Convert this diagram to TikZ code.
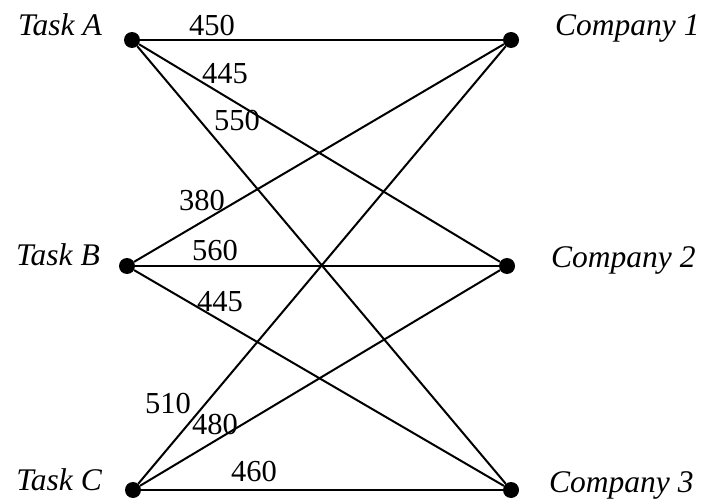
\documentclass[tikz,border=0pt]{standalone}
\usepackage{fontspec}
\setmainfont{Liberation Serif}
\usepackage{tikz}
\usetikzlibrary{positioning}

\begin{document}
\begin{tikzpicture}[
    x=1pt, y=1pt,
    dot/.style={circle, fill=black, inner sep=0pt, minimum size=16pt},
    side_lbl/.style={inner sep=0pt, font=\fontsize{31.5}{36}\selectfont\itshape},
    cost_lbl/.style={inner sep=0pt, font=\fontsize{30.5}{36}\selectfont},
    edge/.style={line width=2pt}
]
\useasboundingbox (0,0) rectangle (707,499);

% tasks and companies
\node (ta) [dot] at (132,459) {};
\node (tb) [dot] at (127,233) {};
\node (tc) [dot] at (133,9) {};
\node (ca) [dot] at (511,459) {};
\node (cb) [dot] at (507,233) {};
\node (cc) [dot] at (511,9) {};

\node (lta) [side_lbl, anchor=base east] at (102,463) {Task A};
\node (ltb) [side_lbl, anchor=base east] at (100,234) {Task B};
\node (ltc) [side_lbl, anchor=base east] at (102,9) {Task C};
\node (lca) [side_lbl, anchor=base west] at (555,463) {Company 1};
\node (lcb) [side_lbl, anchor=base west] at (551,232) {Company 2};
\node (lcc) [side_lbl, anchor=base west] at (549,7) {Company 3};

% assignments
\draw [edge] (ta) -- (ca);
\draw [edge] (ta) -- (cb);
\draw [edge] (ta) -- (cc);
\draw [edge] (tb) -- (ca);
\draw [edge] (tb) -- (cb);
\draw [edge] (tb) -- (cc);
\draw [edge] (tc) -- (ca);
\draw [edge] (tc) -- (cb);
\draw [edge] (tc) -- (cc);

% costs
\node (w11) [cost_lbl] at (212,473) {450};
\node (w12) [cost_lbl] at (225,425) {445};
\node (w13) [cost_lbl] at (237,378) {550};
\node (w21) [cost_lbl] at (202,298) {380};
\node (w22) [cost_lbl] at (215,248) {560};
\node (w23) [cost_lbl] at (220,197) {445};
\node (w31) [cost_lbl] at (168,95) {510};
\node (w32) [cost_lbl] at (215,74) {480};
\node (w33) [cost_lbl] at (254,27) {460};
\end{tikzpicture}
\end{document}
